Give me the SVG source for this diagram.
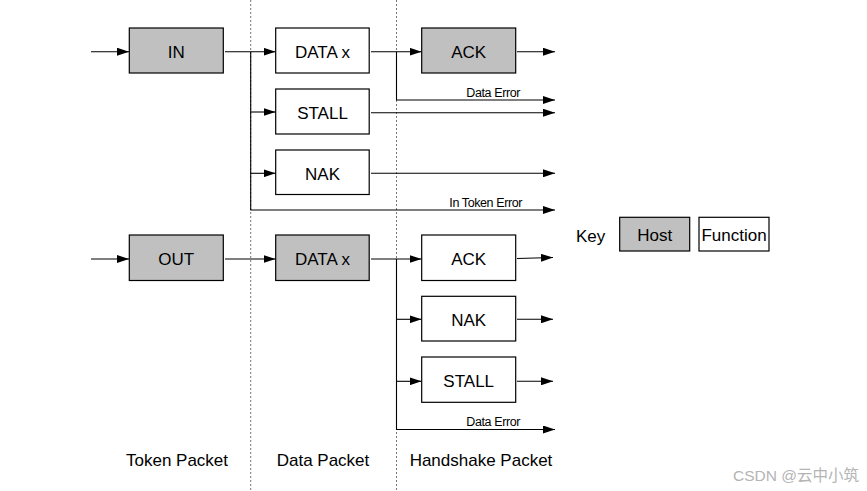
<svg xmlns="http://www.w3.org/2000/svg" width="867" height="491" viewBox="0 0 867 491">
<defs>
<marker id="ah" markerWidth="12" markerHeight="8" refX="12" refY="4" orient="auto" markerUnits="userSpaceOnUse">
<path d="M0,0 L12,4 L0,8 Z" fill="#000"/>
</marker>
<style>
.box{stroke:#000;stroke-width:1.2}
.host{fill:#c0c0c0}
.fn{fill:#fff}
.t{font-family:"Liberation Sans",Arial,sans-serif;font-size:17px;fill:#000;text-anchor:middle}
.s{font-family:"Liberation Sans",Arial,sans-serif;font-size:12.5px;fill:#000;text-anchor:end;letter-spacing:-0.4px}
.c{fill:none;stroke:#000;stroke-width:1.1}
.a{marker-end:url(#ah)}
.div{stroke:#666;stroke-width:0.9;stroke-dasharray:2,2}
</style>
</defs>
<rect width="867" height="491" fill="#fff"/>
<g id="dividers">
<line class="div" x1="250.7" y1="0" x2="250.7" y2="491"/>
<line class="div" x1="396.5" y1="0" x2="396.5" y2="491"/>
</g>
<g id="connectors">
<line class="c a" x1="91" y1="51.7" x2="129" y2="51.7"/>
<line class="c a" x1="225" y1="51.7" x2="275.5" y2="51.7"/>
<polyline class="c a" points="250.7,51.7 250.7,210 555,210"/>
<line class="c a" x1="250.7" y1="112" x2="275.5" y2="112"/>
<line class="c a" x1="250.7" y1="173.3" x2="275.5" y2="173.3"/>
<line class="c a" x1="371" y1="51.7" x2="421.5" y2="51.7"/>
<polyline class="c a" points="396.5,51.7 396.5,100 555,100"/>
<line class="c a" x1="517" y1="51.7" x2="555" y2="51.7"/>
<line class="c a" x1="371" y1="112.7" x2="555" y2="112.7"/>
<line class="c a" x1="371" y1="173.3" x2="555" y2="173.3"/>
<line class="c a" x1="91" y1="259" x2="129" y2="259"/>
<line class="c a" x1="225" y1="259" x2="275.5" y2="259"/>
<line class="c a" x1="371" y1="259" x2="421.5" y2="259"/>
<polyline class="c a" points="396.5,259 396.5,429.5 555,429.5"/>
<line class="c a" x1="396.5" y1="319.3" x2="421.5" y2="319.3"/>
<line class="c a" x1="396.5" y1="381.3" x2="421.5" y2="381.3"/>
<line class="c a" x1="517" y1="258.5" x2="553" y2="257.5"/>
<line class="c a" x1="517" y1="319.3" x2="553" y2="319.3"/>
<line class="c a" x1="517" y1="381.3" x2="553" y2="381.3"/>
<text class="s" x="520" y="96.5">Data Error</text>
<text class="s" x="522" y="206.5">In Token Error</text>
<text class="s" x="520" y="425.5">Data Error</text>
</g>
<g id="in"><rect class="box host" x="129.3" y="28" width="94" height="45"/><text class="t" x="176.3" y="57.5">IN</text></g>
<g id="data-in"><rect class="box fn" x="275.7" y="28" width="93.5" height="45"/><text class="t" x="322.5" y="57.5">DATA x</text></g>
<g id="stall-in"><rect class="box fn" x="275.7" y="89" width="93.5" height="45"/><text class="t" x="322.5" y="118.5">STALL</text></g>
<g id="nak-in"><rect class="box fn" x="275.7" y="150" width="93.5" height="44.5"/><text class="t" x="322.5" y="179.5">NAK</text></g>
<g id="ack-in"><rect class="box host" x="421.7" y="28" width="94" height="45"/><text class="t" x="468.7" y="57.5">ACK</text></g>
<g id="out"><rect class="box host" x="129.3" y="235" width="94" height="45.5"/><text class="t" x="176.3" y="264.5">OUT</text></g>
<g id="data-out"><rect class="box host" x="275.7" y="235" width="93.5" height="45.5"/><text class="t" x="322.5" y="264.5">DATA x</text></g>
<g id="ack-out"><rect class="box fn" x="421.7" y="235" width="94" height="45.5"/><text class="t" x="468.7" y="264.5">ACK</text></g>
<g id="nak-out"><rect class="box fn" x="421.7" y="296.3" width="94" height="44.7"/><text class="t" x="468.7" y="325.5">NAK</text></g>
<g id="stall-out"><rect class="box fn" x="421.7" y="357" width="94" height="45.3"/><text class="t" x="468.7" y="387">STALL</text></g>
<g id="labels">
<text class="t" x="177" y="466">Token Packet</text>
<text class="t" x="323" y="466">Data Packet</text>
<text class="t" x="481" y="466">Handshake Packet</text>
</g>
<g id="key">
<text class="t" x="576" y="242" style="text-anchor:start">Key</text>
<g id="key-host"><rect class="box host" x="619.7" y="217.3" width="70" height="33.7"/><text class="t" x="654.7" y="241">Host</text></g>
<g id="key-function"><rect class="box fn" x="699" y="217.3" width="70" height="33.7"/><text class="t" x="734" y="241">Function</text></g>
</g>
<text x="733" y="481" font-family="Liberation Sans, Noto Sans CJK SC, sans-serif" font-size="15.5" fill="#b4b4b4">CSDN @云中小筑</text>
</svg>
